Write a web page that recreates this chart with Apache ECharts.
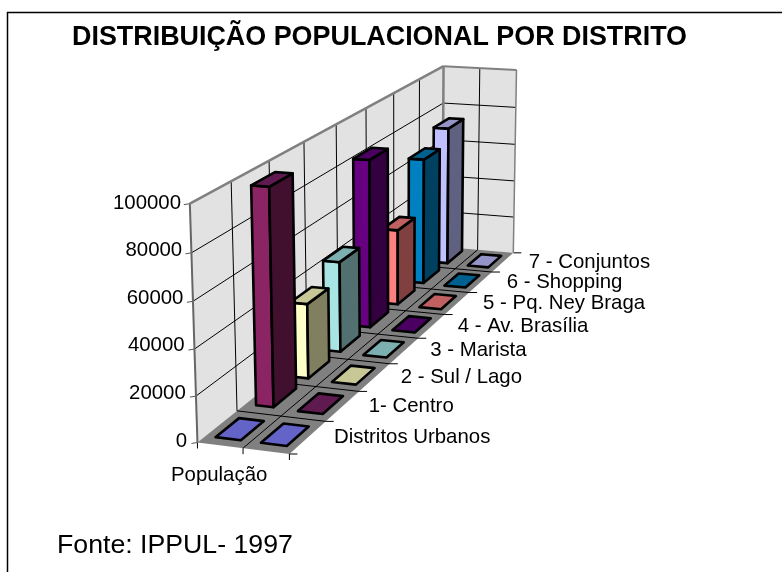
<!DOCTYPE html>
<html><head><meta charset="utf-8">
<style>html,body{margin:0;padding:0;background:#fff}#c{width:782px;height:572px}</style>
<script src="https://cdn.jsdelivr.net/npm/echarts@6/dist/echarts.min.js"></script>
</head><body><div id="c"></div>
<script>
const depthCategories = ['Distritos Urbanos','1- Centro','2 - Sul / Lago','3 - Marista','4 - Av. Brasília','5 - Pq. Ney Braga','6 - Shopping','7 - Conjuntos'];
const columnCategories = ['População',''];
const populacao = [0,96500,34500,43000,82000,38000,65000,73000];
const segundaColuna = [0,0,0,0,0,0,0,0];
const yTicks = [0,20000,40000,60000,80000,100000];
const frontColors = ['#9999FF','#8A2463','#FFFFC8','#A8E4E4','#660080','#FF8080','#0080C0','#C0C0FF'];
const topColors = ['#6464C8','#5F1A50','#C8C896','#7CB0B0','#4A0060','#C06060','#006090','#9494C8'];
const sideColors = ['#4C4C80','#40102E','#808060','#527070','#330040','#804040','#004060','#606080'];

// Calibration of the oblique view: [column, depth, height(0-1), px, py]
const view = [
 [0,0,0,197,441.5],[1,0,0,242,448],[2,0,0,288,453],
 [2,1,0,328,423],[2,4,0,419,338],[2,8,0,513,253],[1,8,0,477,249],[0,8,0,443,248],
 [0,0,1,189,203],[0,2,1,270,162],[0,4,1,337,125],[0,8,1,443,65],[1,8,1,480,68],[2,8,1,516,70]
];
function solve(A,b){const n=b.length;const M=A.map((r,i)=>r.concat(b[i]));
 for(let i=0;i<n;i++){let p=i;for(let k=i+1;k<n;k++)if(Math.abs(M[k][i])>Math.abs(M[p][i]))p=k;
  [M[i],M[p]]=[M[p],M[i]];
  for(let k=i+1;k<n;k++){const f=M[k][i]/M[i][i];for(let j=i;j<=n;j++)M[k][j]-=f*M[i][j];}}
 const x=new Array(n);for(let i=n-1;i>=0;i--){let s=M[i][n];for(let j=i+1;j<n;j++)s-=M[i][j]*x[j];x[i]=s/M[i][i];}return x;}
const cam=(function(){const rows=[],rhs=[];
 view.forEach(([X,Z,H,u,v])=>{
  rows.push([X,Z,H,1,0,0,0,0,-u*X,-u*Z,-u*H]);rhs.push(u);
  rows.push([0,0,0,0,X,Z,H,1,-v*X,-v*Z,-v*H]);rhs.push(v);});
 const n=11,A=[],b=[];
 for(let i=0;i<n;i++){A.push(new Array(n).fill(0));b.push(0);
  rows.forEach((r,k)=>{for(let j=0;j<n;j++)A[i][j]+=r[i]*r[j];b[i]+=r[i]*rhs[k];});}
 return solve(A,b);})();
function proj(X,Z,H){const w=cam[8]*X+cam[9]*Z+cam[10]*H+1;
 return [(cam[0]*X+cam[1]*Z+cam[2]*H+cam[3])/w,(cam[4]*X+cam[5]*Z+cam[6]*H+cam[7])/w];}

const FONT='"Liberation Sans",Arial,sans-serif';
const BLACK='#000',GREY='#808080',WALL='#E2E2E2',FLOOR='#808080';
function poly(points,fill,stroke,lw){return {type:'polygon',shape:{points},style:{fill,stroke:stroke||'none',lineWidth:lw||0,lineJoin:'round'},silent:true};}
function seg(a,b,stroke,lw){return {type:'line',shape:{x1:a[0],y1:a[1],x2:b[0],y2:b[1]},style:{stroke,lineWidth:lw},silent:true};}
function label(text,x,y,align){return {type:'text',style:{text,x,y,fill:'#000',font:'20.4px '+FONT,textAlign:align,textVerticalAlign:'middle'},silent:true};}

function renderScene(params,api){
 const cs=params.coordSys, ch=[];
 const nZ=depthCategories.length, nX=columnCategories.length;
 ch.push(poly([proj(0,0,0),proj(0,nZ,0),proj(0,nZ,1),proj(0,0,1)],WALL));
 ch.push(poly([proj(0,nZ,0),proj(nX,nZ,0),proj(nX,nZ,1),proj(0,nZ,1)],WALL));
 ch.push(poly([proj(0,0,0),proj(nX,0,0),proj(nX,nZ,0),proj(0,nZ,0)],FLOOR));
 yTicks.forEach(t=>{const H=(cs.y+cs.height-api.coord([0,t])[1])/cs.height;
  if(H>0&&H<1){ch.push(seg(proj(0,0,H),proj(0,nZ,H),BLACK,1));ch.push(seg(proj(0,nZ,H),proj(nX,nZ,H),BLACK,1));}
  const p=proj(0,0,H);ch.push(seg([p[0]-6,p[1]+1],p,'#555',1));
 });
 for(let z=1;z<nZ;z++)ch.push(seg(proj(0,z,0),proj(0,z,1),BLACK,1));
 for(let x=1;x<nX;x++)ch.push(seg(proj(x,nZ,0),proj(x,nZ,1),BLACK,1));
 for(let z=0;z<=nZ;z++){const a=proj(nX,z,0);
  if(z>0&&z<nZ)ch.push(seg(proj(0,z,0),a,BLACK,1));
  ch.push(seg(a,[a[0]+8,a[1]],BLACK,1));}
 for(let x=0;x<=nX;x++){const a=proj(x,0,0);
  if(x>0&&x<nX)ch.push(seg(a,proj(x,nZ,0),BLACK,1));
  ch.push(seg(a,[a[0],a[1]+6],BLACK,1));}
 ch.push(seg(proj(0,0,0),proj(0,0,1),'#666',2));
 ch.push(seg(proj(0,0,1),proj(0,nZ,1),GREY,2.5));
 ch.push(seg(proj(0,nZ,1),proj(nX,nZ,1),GREY,2));
 ch.push(seg(proj(nX,nZ,1),proj(nX,nZ,0),GREY,1.5));
 ch.push(seg(proj(0,nZ,1),proj(0,nZ,0),GREY,2.5));
 depthCategories.forEach((name,i)=>{const Z=(api.coord([i,0])[0]-cs.x)/cs.width*nZ;
  const a=proj(nX,Z,0);ch.push(label(name,a[0]+26,a[1]+0,'left'));});
 columnCategories.forEach((name,i)=>{if(!name)return;const a=proj(i+.5,0,0);
  ch.push(label(name,a[0]-1,a[1]+30,'center'));});
 return {type:'group',children:ch};
}
function renderBar(params,api){
 const cs=params.coordSys,nZ=depthCategories.length;
 const i=api.value(0),col=api.value(1),val=api.value(2);
 const pt=api.coord([i,val]);
 const Z=(pt[0]-cs.x)/cs.width*nZ, H=(cs.y+cs.height-pt[1])/cs.height;
 const c=[],lw=2.6;
 let x0,x1,z0,z1;
 if(H>0){x0=col+.24;x1=col+.64;z0=Z-.27;z1=Z+.37;}
 else{x0=col+.22;x1=col+.78;z0=Z-.3;z1=Z+.3;}
 if(H>0){
  c.push(poly([proj(x0,z0,0),proj(x1,z0,0),proj(x1,z0,H),proj(x0,z0,H)],frontColors[i],BLACK,lw));
  c.push(poly([proj(x1,z0,0),proj(x1,z1,0),proj(x1,z1,H),proj(x1,z0,H)],sideColors[i],BLACK,lw));
 }
 c.push(poly([proj(x0,z0,H),proj(x1,z0,H),proj(x1,z1,H),proj(x0,z1,H)],topColors[i],BLACK,lw));
 return {type:'group',children:c};
}
const barData=[];
for(let i=depthCategories.length-1;i>=0;i--){
 barData.push([i,0,populacao[i]]);barData.push([i,1,segundaColuna[i]]);
}
const chart=echarts.init(document.getElementById('c'),null,{renderer:'canvas'});
const rich={};yTicks.forEach(t=>{rich['p'+t]={fontFamily:FONT,fontSize:20.4,color:'#000',padding:[0,6*t/100000,0,0]};});
chart.setOption({
 animation:false,backgroundColor:'#fff',
 title:[
  {text:'DISTRIBUIÇÃO POPULACIONAL POR DISTRITO',left:67,top:19,textStyle:{fontFamily:FONT,fontSize:26.9,fontWeight:'bold',color:'#000'}},
  {text:'Fonte: IPPUL- 1997',left:52,top:527,textStyle:{fontFamily:FONT,fontSize:26.7,fontWeight:'normal',color:'#000'}}
 ],
 grid:{left:190,top:203,bottom:131,width:300,containLabel:false},
 xAxis:{type:'category',data:depthCategories,show:false},
 yAxis:{type:'value',min:0,max:100000,interval:20000,splitLine:{show:false},axisLine:{show:false},axisTick:{show:false},
  axisLabel:{margin:3,formatter:v=>'{p'+v+'|'+v+'}',rich}},
 graphic:[
  {type:'line',shape:{x1:7,y1:12.5,x2:782,y2:12.5},style:{stroke:'#000',lineWidth:1.5},silent:true},
  {type:'line',shape:{x1:7.5,y1:12,x2:7.5,y2:572},style:{stroke:'#000',lineWidth:1.5},silent:true}
 ],
 series:[
  {type:'custom',coordinateSystem:'cartesian2d',renderItem:renderScene,data:[[0,0]],clip:false,silent:true,z:1},
  {type:'custom',coordinateSystem:'cartesian2d',renderItem:renderBar,data:barData,encode:{x:0,y:2},clip:false,silent:true,z:2}
 ]
});
</script></body></html>
